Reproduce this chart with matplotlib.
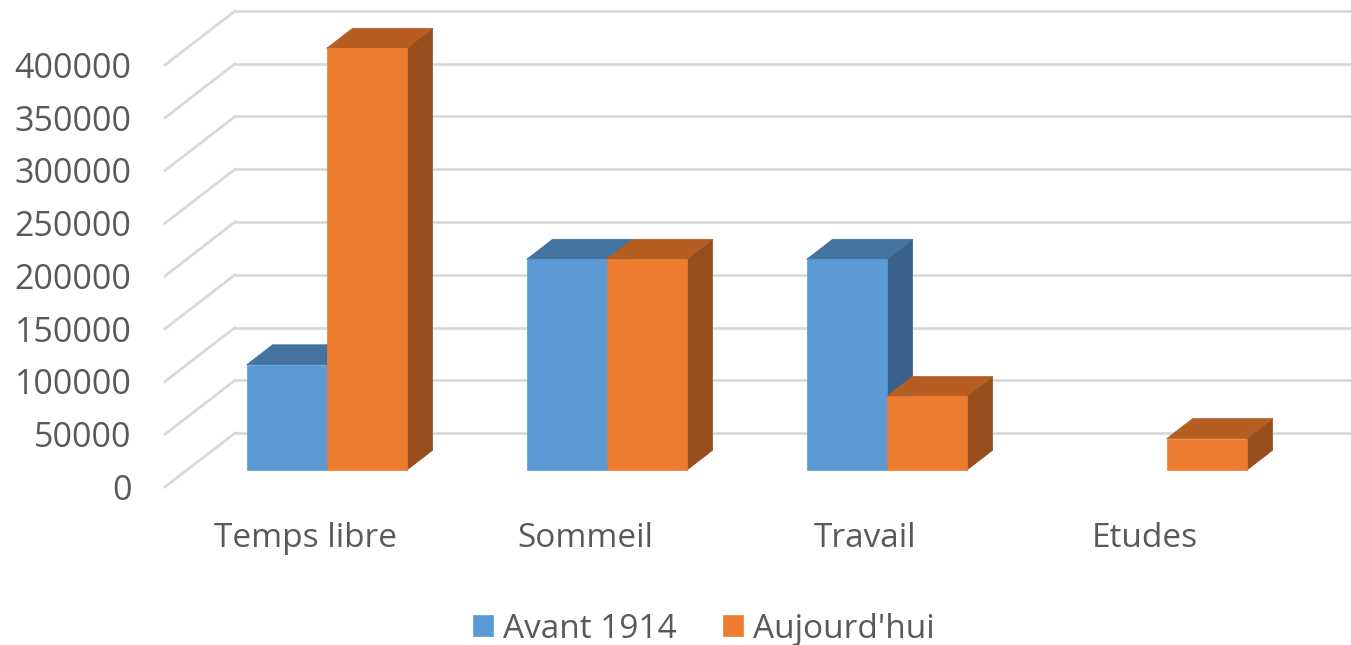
import numpy as np
import matplotlib
matplotlib.use('Agg')
import matplotlib.pyplot as plt
from matplotlib.patches import Polygon

plt.rcParams['font.family'] = ['Open Sans', 'DejaVu Sans']

categories = ['Temps libre', 'Sommeil', 'Travail', 'Etudes']
series_names = ['Avant 1914', "Aujourd'hui"]
avant_1914 = [100000, 200000, 200000, 0]
aujourdhui = [400000, 200000, 70000, 30000]
yticks = np.arange(0, 400001, 50000)

front = ['#5B9BD5', '#ED7D31']
top = ['#44739F', '#B65D22']
side = ['#38628A', '#974F1D']
grid_c = '#D9D9D9'
text_c = '#595959'

W, H = 1351, 645
fig = plt.figure(figsize=(W / 100, H / 100), dpi=100)
fig.patch.set_facecolor('white')
# axes = front plane of the 3d box
left_px, bottom_px, width_px, height_px = 165, 158, W - 165, 422
ax = fig.add_axes([left_px / W, bottom_px / H, width_px / W, height_px / H])
cat_px = 280.
xmax = -0.5 + width_px / cat_px
ax.set_xlim(-0.5, xmax)
ax.set_ylim(0, 400000)
for s in ax.spines.values():
    s.set_visible(False)

# oblique depth, in data units (full depth of the floor)
ddx = 70 / cat_px
ddy = 54 / height_px * 400000

# gridlines: diagonal on the left wall + horizontal on the back wall
for v in yticks:
    ax.plot([-0.5, -0.5 + ddx], [v, v + ddy], color=grid_c, lw=2, clip_on=False, zorder=1)
    ax.plot([-0.5 + ddx, xmax + 1], [v + ddy, v + ddy], color=grid_c, lw=2, clip_on=False, zorder=1)

t0, t1 = 0.31, 0.68
bw = 80 / cat_px
gap = 60 / cat_px


def P(x, y, t):
    return (x + ddx * t, y + ddy * t)


z = 2
for i in range(len(categories)):
    for s, vals in enumerate([avant_1914, aujourdhui]):
        v = vals[i]
        if v <= 0:
            continue
        xl = i - 0.5 + gap + bw * s
        xr = xl + bw
        sd = [P(xr, 0, t0), P(xr, 0, t1), P(xr, v, t1), P(xr, v, t0)]
        tp = [P(xl, v, t0), P(xr, v, t0), P(xr, v, t1), P(xl, v, t1)]
        fr = [P(xl, 0, t0), P(xr, 0, t0), P(xr, v, t0), P(xl, v, t0)]
        ax.add_patch(Polygon(sd, closed=True, fc=side[s], ec=side[s], lw=0.5, clip_on=False, zorder=z))
        ax.add_patch(Polygon(tp, closed=True, fc=top[s], ec=top[s], lw=0.5, clip_on=False, zorder=z))
        lab = series_names[s] if i == 0 else None
        ax.add_patch(Polygon(fr, closed=True, fc=front[s], ec=front[s], lw=0.5, clip_on=False, zorder=z, label=lab))
        z += 1

ax.set_yticks(yticks)
ax.set_yticklabels(['{:d}'.format(int(v)) for v in yticks])
ax.set_xticks(range(len(categories)))
ax.set_xticklabels(categories)
ax.tick_params(axis='y', length=0, pad=24, labelsize=24.5, labelcolor=text_c)
ax.tick_params(axis='x', length=0, pad=25, labelsize=24, labelcolor=text_c)

ax.legend(loc='center', bbox_to_anchor=(704 / W, 16 / H), bbox_transform=fig.transFigure,
          ncol=2, frameon=False, fontsize=24, labelcolor=text_c,
          handlelength=0.6, handleheight=0.6, handletextpad=0.3, columnspacing=1.4)

fig.savefig('out.png', dpi=100, facecolor='white')
